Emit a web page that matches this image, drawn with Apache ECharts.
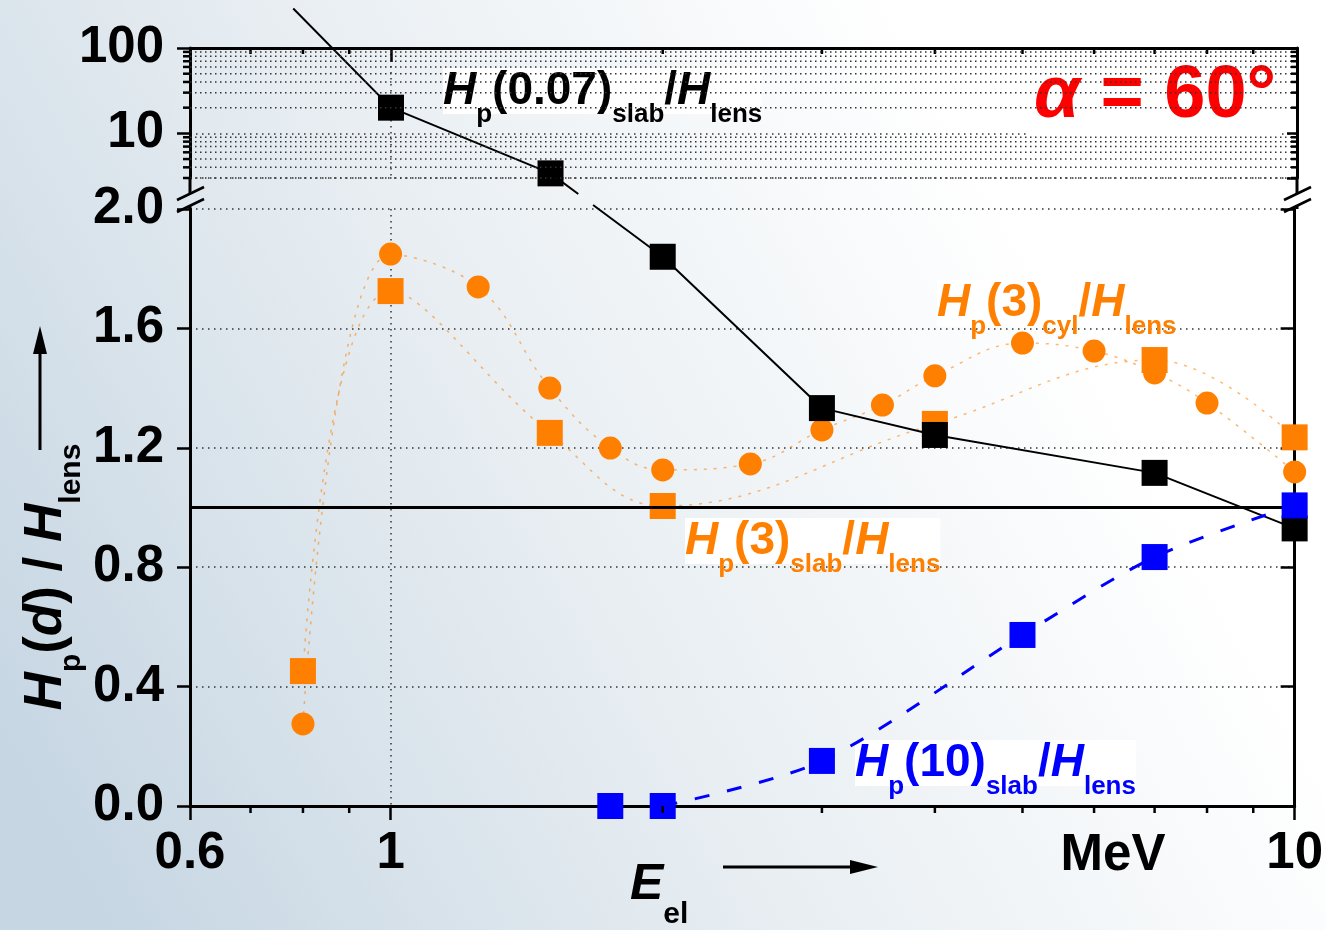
<!DOCTYPE html>
<html>
<head>
<meta charset="utf-8">
<title>Hp(d)/Hlens, alpha = 60</title>
<script src="https://cdn.jsdelivr.net/npm/echarts@6/dist/echarts.min.js"></script>
<style>
  html, body { margin: 0; padding: 0; background: #fff; }
  #chart { width: 1326px; height: 930px; }
</style>
</head>
<body>
<div id="chart"></div>
<script>
// electron energy (MeV) and dose ratio H_p(d) / H_lens
const energyHp007 = [0.78, 1, 1.5, 2, 3, 4, 7, 10]
const ratioHp007 = [290, 20, 3.4, 1.84, 1.333, 1.243, 1.116, 0.93]

const energyCyl3 = [0.8, 1, 1.25, 1.5, 1.75, 2, 2.5, 3, 3.5, 4, 5, 6, 7, 8, 10]
const ratioCyl3 = [0.275, 1.849, 1.739, 1.40, 1.199, 1.126, 1.146, 1.26, 1.343, 1.441, 1.551, 1.524, 1.451, 1.35, 1.119]

const energySlab3 = [0.8, 1, 1.5, 2, 4, 7, 10]
const ratioSlab3 = [0.452, 1.725, 1.25, 1.005, 1.28, 1.494, 1.235]

const energySlab10 = [1.75, 2, 3, 5, 7, 10]
const ratioSlab10 = [0, 0, 0.151, 0.573, 0.834, 1.007]

// axes
const X_MIN = 0.6, X_MAX = 10
const TOP_MIN = 3, TOP_MAX = 100       // upper (log) part of the broken axis
const LOW_MIN = 0, LOW_MAX = 2, LOW_STEP = 0.4
const xMinorTicks = [0.7, 0.8, 0.9, 2, 3, 4, 5, 6, 7, 8, 9]
const yTopMinorTicks = [4, 5, 6, 7, 8, 9, 20, 30, 40, 50, 60, 70, 80, 90]
const REF_RATIO = 1.0

// layout
const W = 1326
const GL = 190, GR = 1297
const TOP_T = 48, TOP_B = 178, LOW_T = 209, LOW_B = 806
const GAP_T = 194, GAP_B = 205

const FONT = '"Liberation Sans", Arial, Helvetica, sans-serif'
const ORANGE = '#FF8000'
const BLUE = '#0000FF'
const axisLine = { onZero: false, lineStyle: { color: '#000', width: 3 } }
const tickStyle = { color: '#000', width: 2.5 }
const dotted = { color: '#333', width: 1.5, type: [1.5, 4.5] }
const tickLabel = { fontSize: 51, fontWeight: 'bold', color: '#000', fontFamily: FONT }
const orangeDots = { color: ORANGE, width: 1.5, type: [3, 7], opacity: 0.55 }

const pairs = (xs, ys) => xs.map((x, i) => [x, ys[i]])

const hp007 = pairs(energyHp007, ratioHp007)
const hp007Top = hp007.filter(p => p[1] > LOW_MAX)
  .map(p => (p[1] > TOP_MAX ? { value: p, symbol: 'none' } : p))
const hp007Low = hp007.filter(p => p[1] <= LOW_MAX)

const slab10 = pairs(energySlab10, ratioSlab10)
const slab10LineFrom = ratioSlab10.findIndex(v => v > 0) - 1

const solid = color => ({ color, opacity: 1, borderWidth: 0 })

const chart = echarts.init(document.getElementById('chart'))

chart.setOption({
  animation: false,
  backgroundColor: {
    type: 'linear', x: 0, y: 0.8, x2: 0.75, y2: 0.2,
    colorStops: [
      { offset: 0, color: '#c6d6e3' },
      { offset: 0.45, color: '#e4ebf0' },
      { offset: 1, color: '#ffffff' }
    ]
  },
  grid: [
    { left: GL, right: W - GR, top: TOP_T, height: TOP_B - TOP_T },
    { left: GL, right: W - GR, top: LOW_T, height: LOW_B - LOW_T }
  ],
  xAxis: [
    {
      gridIndex: 0, type: 'log', min: X_MIN, max: X_MAX, position: 'top',
      axisLine, axisTick: { inside: true, length: 14, lineStyle: tickStyle },
      axisLabel: { show: false }, splitLine: { show: true, lineStyle: dotted }
    },
    {
      gridIndex: 1, type: 'log', min: X_MIN, max: X_MAX, position: 'bottom',
      axisLine, axisTick: { length: 14, lineStyle: tickStyle },
      axisLabel: { ...tickLabel, margin: 22, formatter: v => String(+(+v).toPrecision(3)) },
      splitLine: { show: true, lineStyle: dotted }
    }
  ],
  yAxis: [
    {
      gridIndex: 0, type: 'log', min: TOP_MIN, max: TOP_MAX, position: 'left',
      axisLine, axisTick: { length: 13, lineStyle: tickStyle },
      axisLabel: { ...tickLabel, margin: 26, showMinLabel: false, formatter: v => String(Math.round(v)) },
      splitLine: { show: true, lineStyle: dotted }
    },
    {
      gridIndex: 1, type: 'value', min: LOW_MIN, max: LOW_MAX, interval: LOW_STEP, position: 'left',
      axisLine, axisTick: { length: 13, lineStyle: tickStyle },
      axisLabel: { ...tickLabel, margin: 26, formatter: v => v.toFixed(1) },
      splitLine: { show: true, lineStyle: dotted }
    },
    {
      gridIndex: 0, type: 'log', min: TOP_MIN, max: TOP_MAX, position: 'right',
      axisLine, axisTick: { inside: true, length: 10, lineStyle: tickStyle },
      axisLabel: { show: false }, splitLine: { show: false }
    },
    {
      gridIndex: 1, type: 'value', min: LOW_MIN, max: LOW_MAX, interval: LOW_STEP, position: 'right',
      axisLine, axisTick: { inside: true, length: 14, lineStyle: tickStyle },
      axisLabel: { show: false }, splitLine: { show: false }
    }
  ],
  series: [
    {
      name: 'Hp(0.07) slab top', type: 'line', xAxisIndex: 0, yAxisIndex: 0,
      data: hp007Top, clip: false, symbol: 'rect', symbolSize: 26,
      itemStyle: solid('#000'), lineStyle: { color: '#000', width: 2 }, z: 5
    },
    {
      name: 'Hp(0.07) slab', type: 'line', xAxisIndex: 1, yAxisIndex: 1,
      data: hp007Low, symbol: 'rect', symbolSize: 26,
      itemStyle: solid('#000'), lineStyle: { color: '#000', width: 2 }, z: 5,
      markLine: {
        silent: true, symbol: 'none', label: { show: false },
        lineStyle: { color: '#000', width: 3, type: 'solid' },
        data: [{ yAxis: REF_RATIO }]
      }
    },
    {
      name: 'Hp(3) cyl', type: 'line', xAxisIndex: 1, yAxisIndex: 1,
      data: pairs(energyCyl3, ratioCyl3), smooth: 0.4,
      symbol: 'circle', symbolSize: 23, itemStyle: solid(ORANGE),
      lineStyle: orangeDots, z: 4
    },
    {
      name: 'Hp(3) slab', type: 'line', xAxisIndex: 1, yAxisIndex: 1,
      data: pairs(energySlab3, ratioSlab3), smooth: 0.4,
      symbol: 'rect', symbolSize: 26, itemStyle: solid(ORANGE),
      lineStyle: orangeDots, z: 4
    },
    {
      name: 'Hp(10) slab', type: 'line', xAxisIndex: 1, yAxisIndex: 1,
      data: slab10.slice(slab10LineFrom), smooth: 0.3,
      symbol: 'rect', symbolSize: 26, itemStyle: solid(BLUE),
      lineStyle: { color: BLUE, width: 3, type: [15, 18] }, z: 6
    },
    {
      name: 'Hp(10) slab (no line)', type: 'scatter', xAxisIndex: 1, yAxisIndex: 1,
      data: slab10.slice(0, slab10LineFrom),
      symbol: 'rect', symbolSize: 26, itemStyle: solid(BLUE), z: 6
    }
  ]
})

// --- decorations that need the scales: minor ticks, minor grid, axis break, crossing segment
const toX = v => chart.convertToPixel({ xAxisIndex: 1 }, v)
const toYTop = v => chart.convertToPixel({ yAxisIndex: 0 }, v)
const line = (x1, y1, x2, y2, style) => ({
  type: 'line', z: 10, silent: true,
  shape: { x1, y1, x2, y2 },
  style: Object.assign({ stroke: '#000', lineWidth: 2.5 }, style)
})

const deco = []
xMinorTicks.forEach(v => {
  const x = toX(v)
  deco.push(line(x, LOW_B, x, LOW_B + 7))
  deco.push(line(x, TOP_T, x, TOP_T + 6))
})
yTopMinorTicks.concat([TOP_MIN]).forEach(v => {
  const y = toYTop(v)
  deco.push(line(GL, y, GR, y, { stroke: '#333', lineWidth: 1.5, lineDash: [1.5, 3.5] }))
  deco.push(line(GL - 7, y, GL, y))
  deco.push(line(GR - 6, y, GR, y))
})
// axis lines through the break, with the gap
;[GL, GR].forEach(x => {
  deco.push(line(x, TOP_B, x, GAP_T - 1, { lineWidth: 3 }))
  deco.push(line(x, GAP_B + 1, x, LOW_T, { lineWidth: 3 }))
  deco.push(line(x - 13, GAP_T + 6, x + 14, GAP_T - 7))
  deco.push(line(x - 13, GAP_B + 7, x + 14, GAP_B - 6))
})
// black curve crossing the break
const lastTop = hp007.filter(p => p[1] > LOW_MAX).pop()
const firstLow = hp007Low[0]
const a = chart.convertToPixel({ gridIndex: 0 }, lastTop)
const b = chart.convertToPixel({ gridIndex: 1 }, firstLow)
const atY = y => a[0] + (y - a[1]) / (b[1] - a[1]) * (b[0] - a[0])
deco.push(line(a[0], a[1], atY(GAP_T), GAP_T, { lineWidth: 2 }))
deco.push(line(atY(GAP_B), GAP_B, b[0], b[1], { lineWidth: 2 }))

// --- text
const big = 46, small = 26
const richFor = (color, bg) => ({
  i: { fontSize: big, lineHeight: big, fontWeight: 'bold', fontStyle: 'italic', fontFamily: FONT, fill: color, verticalAlign: 'top', backgroundColor: bg },
  n: { fontSize: big, lineHeight: big, fontWeight: 'bold', fontFamily: FONT, fill: color, verticalAlign: 'top', backgroundColor: bg },
  s: { fontSize: small, lineHeight: small, fontWeight: 'bold', fontFamily: FONT, fill: color, verticalAlign: 'top', padding: [34, 0, 0, 0] }
})
const label = (x, y, text, color) => ({
  type: 'text', x, y, z: 1, silent: true,
  style: { text, textAlign: 'left', textVerticalAlign: 'top', rich: richFor(color, '#fff'), backgroundColor: '#fff' }
})

const texts = [
  label(443, 68, '{i|H}{s|p}{n|(0.07)}{s|slab}{n|/}{i|H}{s|lens}', '#000'),
  label(937, 280, '{i|H}{s|p}{n|(3)}{s|cyl}{n|/}{i|H}{s|lens}', ORANGE),
  label(685, 518, '{i|H}{s|p}{n|(3)}{s|slab}{n|/}{i|H}{s|lens}', ORANGE),
  label(855, 740, '{i|H}{s|p}{n|(10)}{s|slab}{n|/}{i|H}{s|lens}', BLUE),
  {
    type: 'text', x: 1030, y: 58, z: 1, silent: true,
    style: {
      text: '{a|α}{n| = 60°}', textAlign: 'left', textVerticalAlign: 'top',
      backgroundColor: '#fff', padding: [2, 4, 2, 4],
      rich: {
        a: { fontSize: 74, fontWeight: 'bold', fontStyle: 'italic', fontFamily: FONT, fill: '#FF0000' },
        n: { fontSize: 74, fontWeight: 'bold', fontFamily: FONT, fill: '#FF0000' }
      }
    }
  },
  {
    type: 'text', x: 1113, y: 856, z: 1, silent: true,
    style: { text: 'MeV', textAlign: 'center', textVerticalAlign: 'middle', font: 'bold 51px ' + FONT, fill: '#000' }
  },
  {
    type: 'text', x: 630, y: 860, z: 1, silent: true,
    style: {
      text: '{i|E}{s|el}', textAlign: 'left', textVerticalAlign: 'top',
      rich: {
        i: { fontSize: 50, lineHeight: 50, fontWeight: 'bold', fontStyle: 'italic', fontFamily: FONT, fill: '#000', verticalAlign: 'top' },
        s: { fontSize: 30, lineHeight: 30, fontWeight: 'bold', fontFamily: FONT, fill: '#000', verticalAlign: 'top', padding: [40, 0, 0, 0] }
      }
    }
  },
  {
    type: 'text', x: 46, y: 577, rotation: Math.PI / 2, z: 1, silent: true,
    style: {
      text: '{i|H}{s|p}{n|(}{i|d}{n|) / }{i|H}{s|lens}', textAlign: 'center', textVerticalAlign: 'middle',
      rich: {
        i: { fontSize: 53, lineHeight: 53, fontWeight: 'bold', fontStyle: 'italic', fontFamily: FONT, fill: '#000', verticalAlign: 'top' },
        n: { fontSize: 53, lineHeight: 53, fontWeight: 'bold', fontFamily: FONT, fill: '#000', verticalAlign: 'top' },
        s: { fontSize: 30, lineHeight: 30, fontWeight: 'bold', fontFamily: FONT, fill: '#000', verticalAlign: 'top', padding: [37, 0, 0, 0] }
      }
    }
  },
  // axis arrows
  line(723, 867, 855, 867, { lineWidth: 3 }),
  { type: 'polygon', z: 10, silent: true, shape: { points: [[850, 860], [878, 867], [850, 874]] }, style: { fill: '#000' } },
  line(40, 450, 40, 350, { lineWidth: 3 }),
  { type: 'polygon', z: 10, silent: true, shape: { points: [[33, 354], [40, 326], [47, 354]] }, style: { fill: '#000' } }
]

chart.setOption({ graphic: { elements: deco.concat(texts) } })
</script>
</body>
</html>
